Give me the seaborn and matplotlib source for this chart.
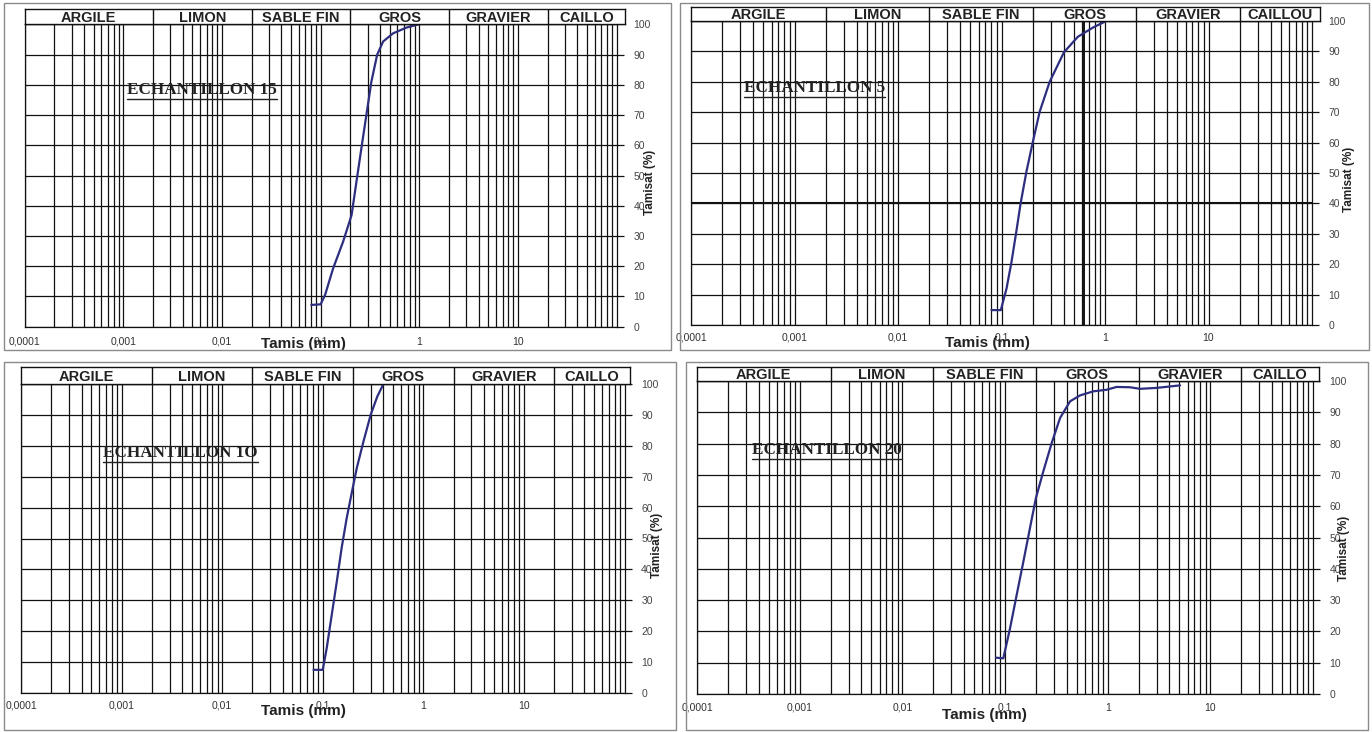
import matplotlib
matplotlib.use("Agg")
import matplotlib.pyplot as plt
from matplotlib.lines import Line2D
from matplotlib.patches import Rectangle
from matplotlib.ticker import LogLocator, NullFormatter
import seaborn as sns

# granulometric classes (mm) shown in the header band
class_limits = [0.0001, 0.002, 0.02, 0.2, 2, 20, 100]
class_names = ["ARGILE", "LIMON", "SABLE FIN", "GROS", "GRAVIER", "CAILLO"]
class_names_5 = ["ARGILE", "LIMON", "SABLE FIN", "GROS", "GRAVIER", "CAILLOU"]

x_ticks = [0.0001, 0.001, 0.01, 0.1, 1, 10]
x_tick_labels = ["0,0001", "0,001", "0,01", "0,1", "1", "10"]
y_ticks = [0, 10, 20, 30, 40, 50, 60, 70, 80, 90, 100]

# passing curves: sieve size (mm) / passing (%)
ech15_size = [0.0805, 0.1, 0.111, 0.134, 0.169, 0.206, 0.231, 0.259, 0.291,
              0.327, 0.374, 0.43, 0.542, 0.739, 0.99]
ech15_pass = [7.2, 7.4, 10.5, 19.3, 28.1, 36.9, 48, 59, 70, 81, 89.9, 94.3,
              97, 98.9, 100]

ech5_size = [0.08, 0.0985, 0.112, 0.125, 0.139, 0.153, 0.174, 0.201, 0.234,
             0.292, 0.401, 0.546, 0.761, 1.0]
ech5_pass = [4.9, 4.9, 12.1, 20.8, 30.7, 40, 50.4, 60.3, 70.2, 80, 89.7, 94.8,
             97.8, 99.8]

ech10_size = [0.081, 0.1, 0.1096, 0.123, 0.138, 0.154, 0.173, 0.194, 0.218,
              0.254, 0.3, 0.349, 0.401]
ech10_pass = [7.5, 7.5, 14.6, 25.4, 36.1, 46.9, 56.6, 64.7, 72.8, 81.4, 90.1,
              96, 100]

ech20_size = [0.0817, 0.0963, 0.112, 0.13, 0.151, 0.175, 0.2, 0.236, 0.285,
              0.344, 0.43, 0.538, 0.725, 0.977, 1.22, 1.65, 2.07, 3.0, 5.07]
ech20_pass = [11.6, 11.4, 21, 31.7, 42.3, 53, 62.6, 71.1, 80.2, 88.2, 93.5,
              95.4, 96.7, 97.2, 98.1, 98, 97.5, 97.8, 98.6]

W, H = 1372, 732
CURVE = "#2e2e80"
GRID = "#111111"

# pixel layout of the four scanned charts
panels = [
    dict(title="ECHANTILLON 15", size=ech15_size, passing=ech15_pass, names=class_names,
         plot=(24.6, 24.3, 616.6, 326.7), head_top=9, head_right=625,
         frame=(4, 3, 671, 350), title_xy=(127, 90), xlabel_xy=(303, 344),
         ylabel_xy=(650, 182), tick_y=341),
    dict(title="ECHANTILLON 5", size=ech5_size, passing=ech5_pass, names=class_names_5,
         plot=(691, 21, 1312, 325), head_top=7, head_right=1320,
         frame=(680, 3, 1369, 350), title_xy=(744, 88), xlabel_xy=(987, 343),
         ylabel_xy=(1349, 179), tick_y=337, thick=True),
    dict(title="ECHANTILLON 1O", size=ech10_size, passing=ech10_pass, names=class_names,
         plot=(21, 384, 624.5, 693), head_top=367, head_right=630,
         frame=(4, 362, 676, 730), title_xy=(103, 453), xlabel_xy=(303, 711),
         ylabel_xy=(657, 545), tick_y=705),
    dict(title="ECHANTILLON 20", size=ech20_size, passing=ech20_pass, names=class_names,
         plot=(697, 381, 1313, 694), head_top=367, head_right=1319,
         frame=(686, 362, 1368, 730), title_xy=(752, 450), xlabel_xy=(984, 715),
         ylabel_xy=(1344, 548), tick_y=707),
]


def px_rect(l, t, r, b):
    return [l / W, 1 - b / H, (r - l) / W, (b - t) / H]


sns.set_style("white")
plt.rcParams["font.family"] = ["Liberation Sans", "DejaVu Sans"]

fig = plt.figure(figsize=(W / 100, H / 100), dpi=100)
fig.patch.set_facecolor("white")

titles = []
for p in panels:
    l, t, r, b = p["plot"]
    decade = (r - l) / 6.0

    # grey frame round each chart
    fl, ft, fr, fb = p["frame"]
    fig.add_artist(Rectangle((fl / W, 1 - fb / H), (fr - fl) / W, (fb - ft) / H,
                             transform=fig.transFigure, fill=False,
                             edgecolor="#8a8a8a", linewidth=1.0))

    ax = fig.add_axes(px_rect(l, t, r, b))
    sns.lineplot(x=p["size"], y=p["passing"], ax=ax, color=CURVE, linewidth=1.6,
                 estimator=None)
    ax.set_xscale("log")
    ax.set_xlim(0.0001, 100)
    ax.set_ylim(0, 100)

    ax.set_xticks(x_ticks, labels=x_tick_labels)
    ax.xaxis.set_minor_locator(LogLocator(base=10, subs=range(2, 10)))
    ax.xaxis.set_minor_formatter(NullFormatter())
    ax.set_yticks(y_ticks)
    ax.yaxis.tick_right()
    ax.yaxis.set_label_position("right")

    pad = (p["tick_y"] - b - 4) * 0.72
    ax.tick_params(axis="x", which="both", length=0, pad=pad, labelsize=7.5,
                   labelcolor="#333333")
    ax.tick_params(axis="y", direction="out", length=5, width=0.9, color=GRID,
                   pad=7, labelsize=7.5, labelcolor="#444444")

    ax.grid(True, which="major", axis="both", color=GRID, linewidth=0.9)
    ax.grid(True, which="minor", axis="x", color=GRID, linewidth=0.9)
    ax.set_axisbelow(True)
    for s in ax.spines.values():
        s.set_color(GRID)
        s.set_linewidth(0.9)

    if p.get("thick"):
        # heavier lines visible on this scan
        ax.axhline(40, color=GRID, linewidth=1.5, zorder=1)
        ax.axvline(0.63, color=GRID, linewidth=1.4, zorder=1)

    ax.set_xlabel("Tamis (mm)", fontsize=11, fontweight="bold", color="#222222")
    cx, cy = p["xlabel_xy"]
    ax.xaxis.set_label_coords((cx - l) / (r - l), -(cy - b) / (b - t))
    ax.xaxis.label.set_va("center")

    ax.set_ylabel("Tamisat (%)", fontsize=8.5, fontweight="bold", color="#222222")
    cx, cy = p["ylabel_xy"]
    ax.yaxis.set_label_coords((cx - l) / (r - l), (b - cy) / (b - t))
    ax.yaxis.label.set_va("center")
    ax.yaxis.label.set_ha("center")
    ax.yaxis.label.set_rotation_mode("anchor")

    tx, ty = p["title_xy"]
    titles.append(ax.text((tx - l) / (r - l), (b - ty) / (b - t), p["title"],
                          transform=ax.transAxes, ha="left", va="center",
                          fontsize=12.3, fontweight="bold",
                          family=["Liberation Serif", "DejaVu Serif"],
                          color="#222222"))

    # header band with the class names
    hr = p["head_right"]
    hax = fig.add_axes(px_rect(l, p["head_top"], hr, t))
    hax.set_xscale("log")
    xmax = 10 ** (2 + (hr - r) / decade)
    hax.set_xlim(0.0001, xmax)
    hax.set_ylim(0, 1)
    hax.set_xticks([])
    hax.set_yticks([])
    hax.minorticks_off()
    for s in hax.spines.values():
        s.set_color(GRID)
        s.set_linewidth(1.0)
    edges = class_limits[:-1] + [xmax]
    for e in edges[1:-1]:
        hax.axvline(e, color=GRID, linewidth=1.0)
    for i, name in enumerate(p["names"]):
        mid = (edges[i] * edges[i + 1]) ** 0.5
        hax.text(mid, 0.42, name, ha="center", va="center", fontsize=10.5,
                 fontweight="bold", color="#222222")

# underline the sample titles
fig.canvas.draw()
renderer = fig.canvas.get_renderer()
inv = fig.transFigure.inverted()
for txt in titles:
    bb = txt.get_window_extent(renderer)
    (x0, y0), (x1, _) = inv.transform([(bb.x0, bb.y0 - 0.5), (bb.x1, bb.y0 - 0.5)])
    fig.add_artist(Line2D([x0, x1], [y0, y0], transform=fig.transFigure,
                          color="#222222", linewidth=1.0))

fig.savefig("out.png", dpi=100, facecolor="white")
